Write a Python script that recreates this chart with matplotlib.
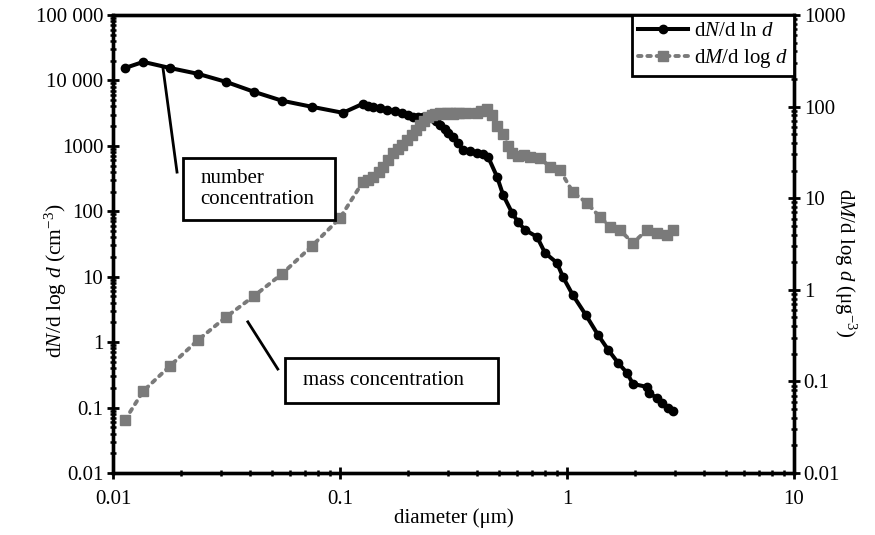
import numpy as np
import matplotlib as mpl; mpl.use("Agg")
import matplotlib.pyplot as plt
from matplotlib.lines import Line2D
from matplotlib.patches import Rectangle

# number size distribution, dN/d ln d (cm^-3), left axis
num_d = [0.0113, 0.0136, 0.0178, 0.0237, 0.0315, 0.0418, 0.0555, 0.0753, 0.103,
         0.126, 0.133, 0.140, 0.150, 0.161, 0.174, 0.188, 0.199, 0.210, 0.221,
         0.232, 0.243, 0.254, 0.265, 0.276, 0.290, 0.300, 0.315, 0.330, 0.348,
         0.375, 0.401, 0.425, 0.449, 0.492, 0.523, 0.573, 0.608, 0.653,
         0.738, 0.800, 0.903, 0.960, 1.06, 1.21, 1.37, 1.52, 1.68, 1.84, 1.95,
         2.25, 2.30, 2.49, 2.62, 2.79, 2.93]
num_v = [15500, 19200, 15500, 12600, 9500, 6700, 4900, 3950, 3200,
         4390, 4100, 3950, 3750, 3550, 3400, 3200, 3000, 2780, 2780,
         2780, 2750, 2680, 2400, 2090, 1800, 1600, 1370, 1100, 870,
         820, 780, 740, 680, 336, 178, 94.6, 68.9, 52,
         40.6, 23.1, 16.3, 9.9, 5.27, 2.61, 1.29, 0.76, 0.481, 0.338, 0.230,
         0.207, 0.167, 0.140, 0.118, 0.099, 0.089]

# mass size distribution, dM/d log d, right axis
mass_d = [0.0113, 0.0136, 0.0178, 0.0237, 0.0315, 0.0418, 0.0555, 0.0753, 0.100,
          0.126, 0.133, 0.140, 0.148, 0.155, 0.163, 0.171, 0.180, 0.188, 0.198,
          0.208, 0.216, 0.225, 0.234, 0.244, 0.253, 0.262, 0.276,
          0.285, 0.295, 0.305, 0.315, 0.325, 0.335, 0.360, 0.400, 0.420, 0.444,
          0.467, 0.490, 0.523, 0.550, 0.573,
          0.608, 0.645, 0.687, 0.760, 0.842, 0.931, 1.06, 1.22, 1.40, 1.55, 1.71,
          1.95, 2.25, 2.49, 2.76, 2.93]
mass_v = [0.038, 0.0785, 0.147, 0.283, 0.505, 0.855, 1.49, 3.01, 6.08,
          15.0, 16.0, 17.0, 19.5, 21.9, 26.0, 31.1, 34.5, 38.1, 43.0,
          49, 55, 63, 70, 77, 80, 82, 85,
          84, 86, 85, 84, 86, 86, 85, 86, 90, 95,
          80, 62, 50, 37, 31,
          29, 29.5, 28, 27.5, 21.9, 20.3, 11.7, 8.9, 6.2, 4.9, 4.5,
          3.24, 4.5, 4.17, 3.97, 4.5]

left_ticks = [0.01, 0.1, 1, 10, 100, 1000, 10000, 100000]
left_labels = ["0.01", "0.1", "1", "10", "100", "1000", "10 000", "100 000"]
right_ticks = [0.01, 0.1, 1, 10, 100, 1000]
right_labels = ["0.01", "0.1", "1", "10", "100", "1000"]
x_ticks = [0.01, 0.1, 1, 10]
x_labels = ["0.01", "0.1", "1", "10"]

mpl.rcParams.update({"font.family": "serif", "font.serif": ["Liberation Serif"],
    "mathtext.fontset": "custom", "mathtext.rm": "Liberation Serif",
    "mathtext.it": "Liberation Serif:italic", "font.size": 15,
    "axes.linewidth": 2.4})
FS = 15
GREY = "#7a7a7a"

fig = plt.figure(figsize=(8.75, 5.35), dpi=100)
ax = fig.add_axes([113/875, 1-473/535, 681/875, 458/535])
ax2 = ax.twinx()

ln1, = ax.plot(num_d, num_v, color="black", lw=2.9, marker="o", ms=6, mec="black", mfc="black")
ln2, = ax2.plot(mass_d, mass_v, color=GREY, lw=2.8, ls=(0, (0.9, 1.5)), dash_capstyle="round",
                marker="s", ms=6.5, mec=GREY, mfc=GREY)

ax.set_xscale("log"); ax.set_yscale("log"); ax2.set_yscale("log")
ax.set_xlim(0.01, 10); ax.set_ylim(0.01, 100000); ax2.set_ylim(0.01, 1000)
ax.set_xticks(x_ticks); ax.set_xticklabels(x_labels)
ax.set_yticks(left_ticks); ax.set_yticklabels(left_labels)
ax2.set_yticks(right_ticks); ax2.set_yticklabels(right_labels)
for a in (ax, ax2):
    a.tick_params(which="major", direction="inout", length=8, width=2.0, labelsize=FS, pad=3)
    a.tick_params(which="minor", direction="inout", length=5, width=1.8)
    a.yaxis.set_minor_formatter(mpl.ticker.NullFormatter())
ax.xaxis.set_minor_formatter(mpl.ticker.NullFormatter())
ax.tick_params(axis="x", which="major", pad=8)

ax.set_xlabel("diameter (μm)", fontsize=FS, labelpad=0)
ax.set_ylabel(r"d$N$/d log $d$ (cm$^{-3}$)", fontsize=FS + 0.5)
ax.yaxis.set_label_coords(-0.064, 0.42)
ax2.set_ylabel(r"d$M$/d log $d$ (μg$^{-3}$)", fontsize=FS, rotation=270)
ax2.yaxis.set_label_coords(1.094, 0.46)

leg = ax2.legend([ln1, ln2], [r"d$N$/d ln $d$", r"d$M$/d log $d$"], loc="upper right",
                 borderaxespad=0, fancybox=False, edgecolor="black", framealpha=1,
                 fontsize=FS, handlelength=2.4, handletextpad=0.3, borderpad=0.3,
                 labelspacing=0.3)
leg.get_frame().set_linewidth(2.0)

# annotation boxes with leader lines (axes fraction)
def note(x0, y0, w, h, tx, ty, text, lx, ly):
    ax2.add_patch(Rectangle((x0, y0), w, h, transform=ax2.transAxes, fill=True,
                            fc="white", ec="black", lw=2.0, zorder=5))
    ax2.text(tx, ty, text, transform=ax2.transAxes, fontsize=FS, ha="left", va="center",
             linespacing=1.15, zorder=6)
    ax2.add_line(Line2D(lx, ly, transform=ax2.transAxes, color="black", lw=2.0, zorder=6))

note(0.1028, 0.552, 0.223, 0.136, 0.128, 0.620, "number\nconcentration",
     [0.0734, 0.094], [0.884, 0.657])
note(0.2526, 0.153, 0.3127, 0.098, 0.279, 0.203, "mass concentration",
     [0.198, 0.242], [0.330, 0.227])

fig.savefig("out.png", dpi=100)
